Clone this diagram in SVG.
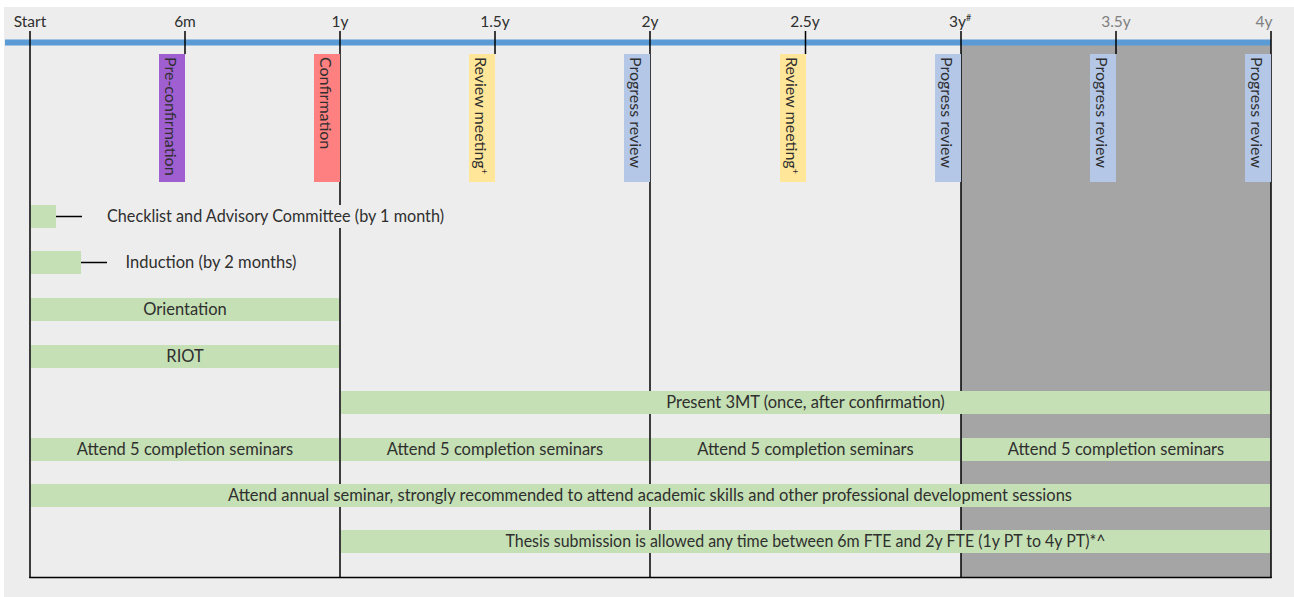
<svg xmlns="http://www.w3.org/2000/svg" width="1294" height="597" viewBox="0 0 1294 597">
<style>
text{font-family:Lato,"Open Sans","Liberation Sans",sans-serif;fill:#2f2f2f}
.ax{font-size:15.5px;text-anchor:middle}
.ax2{font-size:15.5px;text-anchor:middle;fill:#808080}
.b{font-size:16px}
.c{font-size:16.5px;text-anchor:middle}
.ln{stroke:#000;stroke-width:1.5;fill:none}
.bar{fill:#C5E0B4}
.sup{font-size:9px}
</style>
<rect x="0" y="0" width="1294" height="597" fill="#ffffff"/>
<rect x="4" y="7" width="1290" height="590" fill="#EDEDED"/>
<rect x="961" y="45" width="310" height="532" fill="#A5A5A5"/>
<rect x="5" y="39.5" width="1266" height="6" fill="#5B9BD5"/>
<g id="axis">
<line class="ln" x1="30" y1="31" x2="30" y2="578"/>
<line class="ln" x1="185" y1="31" x2="185" y2="54"/>
<line class="ln" x1="340" y1="31" x2="340" y2="578"/>
<line class="ln" x1="495" y1="31" x2="495" y2="54"/>
<line class="ln" x1="650" y1="31" x2="650" y2="578"/>
<line class="ln" x1="805.5" y1="31" x2="805.5" y2="54"/>
<line class="ln" x1="961" y1="31" x2="961" y2="578"/>
<line class="ln" x1="1116" y1="31" x2="1116" y2="54"/>
<line class="ln" x1="1271" y1="31" x2="1271" y2="578"/>
<line class="ln" x1="29.25" y1="577.5" x2="1271.75" y2="577.5"/>
<text class="ax" x="30" y="27">Start</text>
<text class="ax" x="185" y="27">6m</text>
<text class="ax" x="340" y="27">1y</text>
<text class="ax" x="495" y="27">1.5y</text>
<text class="ax" x="650" y="27">2y</text>
<text class="ax" x="805" y="27">2.5y</text>
<text class="ax" x="960" y="27">3y<tspan class="sup" dy="-6">#</tspan></text>
<text class="ax2" x="1116" y="27">3.5y</text>
<text class="ax2" x="1264" y="27">4y</text>
</g>
<g id="milestones">
<g id="m-preconf"><rect x="159" y="54" width="26" height="128" fill="#A05FD0"/><text class="b" transform="translate(165,57) rotate(90)">Pre-confirmation</text></g>
<g id="m-conf"><rect x="314" y="54" width="26" height="128" fill="#FF8080"/><text class="b" transform="translate(320,57) rotate(90)">Confirmation</text></g>
<g id="m-rev1"><rect x="469" y="54" width="26" height="128" fill="#FFE699"/><text class="b" transform="translate(475,57) rotate(90)">Review meeting<tspan class="sup" dy="-6">+</tspan></text></g>
<g id="m-prog2"><rect x="624" y="54" width="26" height="128" fill="#B4C7E7"/><text class="b" transform="translate(630,57) rotate(90)">Progress review</text></g>
<g id="m-rev2"><rect x="780" y="54" width="26" height="128" fill="#FFE699"/><text class="b" transform="translate(786,57) rotate(90)">Review meeting<tspan class="sup" dy="-6">+</tspan></text></g>
<g id="m-prog3"><rect x="935" y="54" width="26" height="128" fill="#B4C7E7"/><text class="b" transform="translate(941,57) rotate(90)">Progress review</text></g>
<g id="m-prog35"><rect x="1090" y="54" width="26" height="128" fill="#B4C7E7"/><text class="b" transform="translate(1096,57) rotate(90)">Progress review</text></g>
<g id="m-prog4"><rect x="1245" y="54" width="26" height="128" fill="#B4C7E7"/><text class="b" transform="translate(1251,57) rotate(90)">Progress review</text></g>
</g>
<g id="connectors">
<line x1="56" y1="216.5" x2="82" y2="216.5" stroke="#000" stroke-width="1.5"/>
<line x1="81" y1="262.5" x2="107" y2="262.5" stroke="#000" stroke-width="1.5"/>
</g>
<g id="checklist"><rect class="bar" x="31" y="205" width="25" height="23"/><rect x="90" y="205" width="370" height="23" fill="#EDEDED"/><text class="c" x="275.5" y="222" textLength="337" lengthAdjust="spacingAndGlyphs">Checklist and Advisory Committee (by 1 month)</text></g>
<g id="induction"><rect class="bar" x="31" y="251" width="50" height="23"/><text class="c" x="211" y="268">Induction (by 2 months)</text></g>
<g id="orientation"><rect class="bar" x="31" y="298" width="308" height="23"/><text class="c" x="185" y="315">Orientation</text></g>
<g id="riot"><rect class="bar" x="31" y="345" width="308" height="23"/><text class="c" x="185" y="362">RIOT</text></g>
<g id="threemt"><rect class="bar" x="341" y="391" width="929" height="23"/><text class="c" x="805.5" y="408">Present 3MT (once, after confirmation)</text></g>
<g id="sem1"><rect class="bar" x="31" y="438" width="308" height="23"/><text class="c" x="185" y="455">Attend 5 completion seminars</text></g>
<g id="sem2"><rect class="bar" x="341" y="438" width="308" height="23"/><text class="c" x="495" y="455">Attend 5 completion seminars</text></g>
<g id="sem3"><rect class="bar" x="651" y="438" width="309" height="23"/><text class="c" x="805.5" y="455">Attend 5 completion seminars</text></g>
<g id="sem4"><rect class="bar" x="962" y="438" width="308" height="23"/><text class="c" x="1116" y="455">Attend 5 completion seminars</text></g>
<g id="annual"><rect class="bar" x="31" y="484" width="1239" height="23"/><text class="c" x="650" y="501">Attend annual seminar, strongly recommended to attend academic skills and other professional development sessions</text></g>
<g id="thesis"><rect class="bar" x="341" y="530" width="929" height="23"/><text class="c" x="805.5" y="547" textLength="600" lengthAdjust="spacingAndGlyphs">Thesis submission is allowed any time between 6m FTE and 2y FTE (1y PT to 4y PT)*^</text></g>
</svg>
